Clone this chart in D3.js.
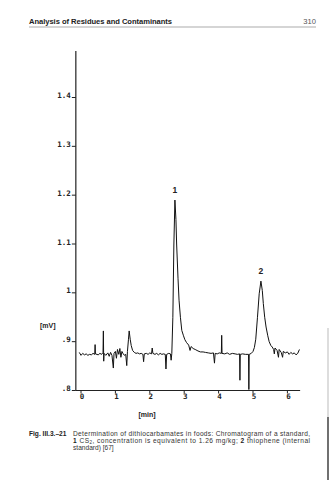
<!DOCTYPE html>
<html>
<head>
<meta charset="utf-8">
<script src="https://cdn.jsdelivr.net/npm/d3@7"></script>
<style>
  body { margin: 0; background: #fff; }
  svg { display: block; }
</style>
</head>
<body>
<div id="chart"></div>
<script>
// chromatogram trace (time in min, signal in mV)
const times = [
  -0.05, 0.00, 0.05, 0.10, 0.15, 0.20, 0.25, 0.30, 0.35, 0.40, 0.41, 0.42, 0.50, 0.55, 0.60, 0.64, 0.65, 0.66, 0.67,
  0.72, 0.78, 0.82, 0.86, 0.90, 0.94, 0.96, 1.00, 1.03, 1.06, 1.10, 1.13, 1.16, 1.19, 1.22, 1.26, 1.30, 1.33, 1.35,
  1.38, 1.40, 1.43, 1.46, 1.50, 1.55, 1.60, 1.65, 1.70, 1.75, 1.80, 1.82, 1.84, 1.90, 1.95, 2.00, 2.05, 2.07, 2.09,
  2.15, 2.20, 2.25, 2.30, 2.35, 2.40, 2.45, 2.47, 2.49, 2.55, 2.60, 2.62, 2.64, 2.67, 2.70, 2.73, 2.76, 2.78, 2.82,
  2.85, 2.89, 2.93, 2.98, 3.02, 3.07, 3.13, 3.17, 3.20, 3.26, 3.32, 3.40, 3.47, 3.55, 3.62, 3.70, 3.78, 3.85, 3.88,
  3.90, 3.96, 4.02, 4.08, 4.09, 4.10, 4.18, 4.25, 4.32, 4.40, 4.48, 4.55, 4.61, 4.62, 4.63, 4.70, 4.78, 4.87, 4.88,
  4.89, 4.95, 5.00, 5.04, 5.08, 5.13, 5.18, 5.23, 5.27, 5.30, 5.34, 5.38, 5.43, 5.47, 5.52, 5.56, 5.60, 5.62, 5.64,
  5.70, 5.74, 5.76, 5.82, 5.86, 5.88, 5.94, 6.00, 6.05, 6.10, 6.15, 6.20, 6.25, 6.30, 6.35
];
const signal = [
  0.878, 0.872, 0.876, 0.873, 0.875, 0.872, 0.874, 0.873, 0.876, 0.874, 0.894, 0.875, 0.873, 0.876, 0.874, 0.878, 0.922, 0.860, 0.876,
  0.872, 0.877, 0.870, 0.878, 0.872, 0.846, 0.876, 0.880, 0.866, 0.884, 0.874, 0.886, 0.868, 0.880, 0.876, 0.872, 0.874, 0.851, 0.880,
  0.905, 0.922, 0.905, 0.892, 0.882, 0.878, 0.876, 0.877, 0.875, 0.876, 0.874, 0.859, 0.875, 0.876, 0.874, 0.877, 0.875, 0.887, 0.876,
  0.874, 0.876, 0.873, 0.876, 0.874, 0.875, 0.874, 0.844, 0.874, 0.876, 0.875, 0.862, 0.876, 0.950, 1.100, 1.190, 1.150, 1.100, 1.030,
  0.985, 0.950, 0.923, 0.912, 0.904, 0.898, 0.893, 0.882, 0.890, 0.886, 0.884, 0.881, 0.879, 0.879, 0.878, 0.877, 0.876, 0.877, 0.856,
  0.876, 0.875, 0.877, 0.876, 0.913, 0.876, 0.875, 0.877, 0.874, 0.876, 0.875, 0.874, 0.875, 0.821, 0.874, 0.875, 0.874, 0.874, 0.802,
  0.874, 0.876, 0.880, 0.888, 0.905, 0.950, 0.998, 1.024, 1.005, 0.978, 0.950, 0.930, 0.912, 0.900, 0.892, 0.889, 0.884, 0.875, 0.887,
  0.882, 0.868, 0.884, 0.878, 0.868, 0.880, 0.877, 0.879, 0.874, 0.878, 0.875, 0.877, 0.873, 0.876, 0.884
];

const yTicks = [0.8, 0.9, 1.0, 1.1, 1.2, 1.3, 1.4];
const yTickLabels = [".8", ".9", "1", "1.1", "1.2", "1.3", "1.4"];
const xTicks = [0, 1, 2, 3, 4, 5, 6];
const xTickLabels = ["0", "1", "2", "3", "4", "5", "6"];

const peakTimes = [2.73, 5.23];
const peakValues = [1.19, 1.024];
const peakLabels = ["1", "2"];

const headerTitle = "Analysis of Residues and Contaminants";
const pageNumber = "310";
const figNumber = "Fig. III.3.\u201321";

const svg = d3.select("#chart")
  .append("svg")
  .attr("width", 329)
  .attr("height", 480);

const x = d3.scaleLinear().domain([0, 6]).range([81, 287.4]);
const y = d3.scaleLinear().domain([0.8, 1.4]).range([390.5, 97.5]);

// page header
svg.append("text")
  .attr("x", 29).attr("y", 24)
  .attr("font-family", "Liberation Sans, Arial, sans-serif")
  .attr("font-weight", "bold")
  .attr("font-size", 7.6)
  .attr("textLength", 143)
  .attr("fill", "#222")
  .text(headerTitle);
svg.append("text")
  .attr("x", 316).attr("y", 24)
  .attr("text-anchor", "end")
  .attr("font-family", "Liberation Sans, Arial, sans-serif")
  .attr("font-size", 7.6)
  .attr("fill", "#555")
  .text(pageNumber);
svg.append("line")
  .attr("x1", 29).attr("x2", 316)
  .attr("y1", 27).attr("y2", 27)
  .attr("stroke", "#888")
  .attr("stroke-width", 0.7);

// axes
const xMin = -0.15, xMax = 6.37, yMax = 1.495;
svg.append("line")
  .attr("x1", x(xMin)).attr("x2", x(xMin))
  .attr("y1", y(0.8)).attr("y2", y(yMax))
  .attr("stroke", "#222").attr("stroke-width", 1.2);
svg.append("line")
  .attr("x1", x(xMin)).attr("x2", x(xMax))
  .attr("y1", y(0.8)).attr("y2", y(0.8))
  .attr("stroke", "#222").attr("stroke-width", 1.2);

svg.selectAll(".ytick")
  .data(yTicks)
  .join("line")
  .attr("class", "ytick")
  .attr("x1", x(xMin) - 4).attr("x2", x(xMin))
  .attr("y1", d => y(d)).attr("y2", d => y(d))
  .attr("stroke", "#222").attr("stroke-width", 1);

svg.selectAll(".ylabel")
  .data(yTicks)
  .join("text")
  .attr("class", "ylabel")
  .attr("x", x(xMin) - 5)
  .attr("y", d => y(d) + 0.5)
  .attr("text-anchor", "end")
  .attr("font-family", "DejaVu Sans Mono, monospace")
  .attr("font-weight", "bold")
  .attr("font-size", 7.5)
  .attr("fill", "#222")
  .text((d, i) => yTickLabels[i]);

svg.selectAll(".xtick")
  .data(xTicks)
  .join("line")
  .attr("class", "xtick")
  .attr("x1", d => x(d)).attr("x2", d => x(d))
  .attr("y1", y(0.8)).attr("y2", y(0.8) + 3)
  .attr("stroke", "#222").attr("stroke-width", 1);

svg.selectAll(".xlabel")
  .data(xTicks)
  .join("text")
  .attr("class", "xlabel")
  .attr("x", d => x(d) + 1)
  .attr("y", y(0.8) + 8.5)
  .attr("text-anchor", "middle")
  .attr("font-family", "DejaVu Sans Mono, monospace")
  .attr("font-weight", "bold")
  .attr("font-size", 7.5)
  .attr("fill", "#222")
  .text((d, i) => xTickLabels[i]);

// axis units
svg.append("text")
  .attr("x", 40).attr("y", 327.5)
  .attr("font-family", "Liberation Sans, Arial, sans-serif")
  .attr("font-weight", "bold")
  .attr("font-size", 7)
  .attr("fill", "#222")
  .text("[mV]");
svg.append("text")
  .attr("x", 147).attr("y", 416.5)
  .attr("text-anchor", "middle")
  .attr("font-family", "Liberation Sans, Arial, sans-serif")
  .attr("font-weight", "bold")
  .attr("font-size", 7)
  .attr("fill", "#222")
  .text("[min]");

// the trace
const pts = times.map((t, i) => [t, signal[i]]);
const line = d3.line().x(d => x(d[0])).y(d => y(d[1]));
svg.append("path")
  .datum(pts)
  .attr("d", line)
  .attr("fill", "none")
  .attr("stroke", "#111")
  .attr("stroke-width", 1)
  .attr("stroke-linejoin", "round");

// peak numbers
svg.selectAll(".peak")
  .data(peakTimes)
  .join("text")
  .attr("class", "peak")
  .attr("x", d => x(d))
  .attr("y", (d, i) => y(peakValues[i]) - 7)
  .attr("text-anchor", "middle")
  .attr("font-family", "Liberation Sans, Arial, sans-serif")
  .attr("font-weight", "bold")
  .attr("font-size", 8.5)
  .attr("fill", "#222")
  .text((d, i) => peakLabels[i]);

// caption
const cap = svg.append("g")
  .attr("font-family", "Liberation Sans, Arial, sans-serif")
  .attr("font-size", 6.6)
  .attr("fill", "#333");
cap.append("text")
  .attr("x", 29).attr("y", 435.5)
  .attr("font-weight", "bold")
  .attr("fill", "#222")
  .text(figNumber);
cap.append("text")
  .attr("x", 73).attr("y", 435.5)
  .attr("textLength", 237)
  .text("Determination of dithiocarbamates in foods: Chromatogram of a standard,");
const l2 = cap.append("text")
  .attr("x", 73).attr("y", 442.5)
  .attr("textLength", 237);
l2.append("tspan").attr("font-weight", "bold").attr("fill", "#222").text("1");
l2.append("tspan").text(" CS");
l2.append("tspan").attr("font-size", 4.5).attr("dy", 1.5).text("2");
l2.append("tspan").attr("dy", -1.5).text(", concentration is equivalent to 1.26 mg/kg; ");
l2.append("tspan").attr("font-weight", "bold").attr("fill", "#222").text("2");
l2.append("tspan").text(" thiophene (internal");
cap.append("text")
  .attr("x", 73).attr("y", 449.5)
  .text("standard) [67]");

// scan edge at the right border
svg.append("line")
  .attr("x1", 328).attr("x2", 328)
  .attr("y1", 328).attr("y2", 417)
  .attr("stroke", "#bbb").attr("stroke-width", 1);
svg.append("line")
  .attr("x1", 328).attr("x2", 328)
  .attr("y1", 417).attr("y2", 480)
  .attr("stroke", "#111").attr("stroke-width", 1.2);
</script>
</body>
</html>
